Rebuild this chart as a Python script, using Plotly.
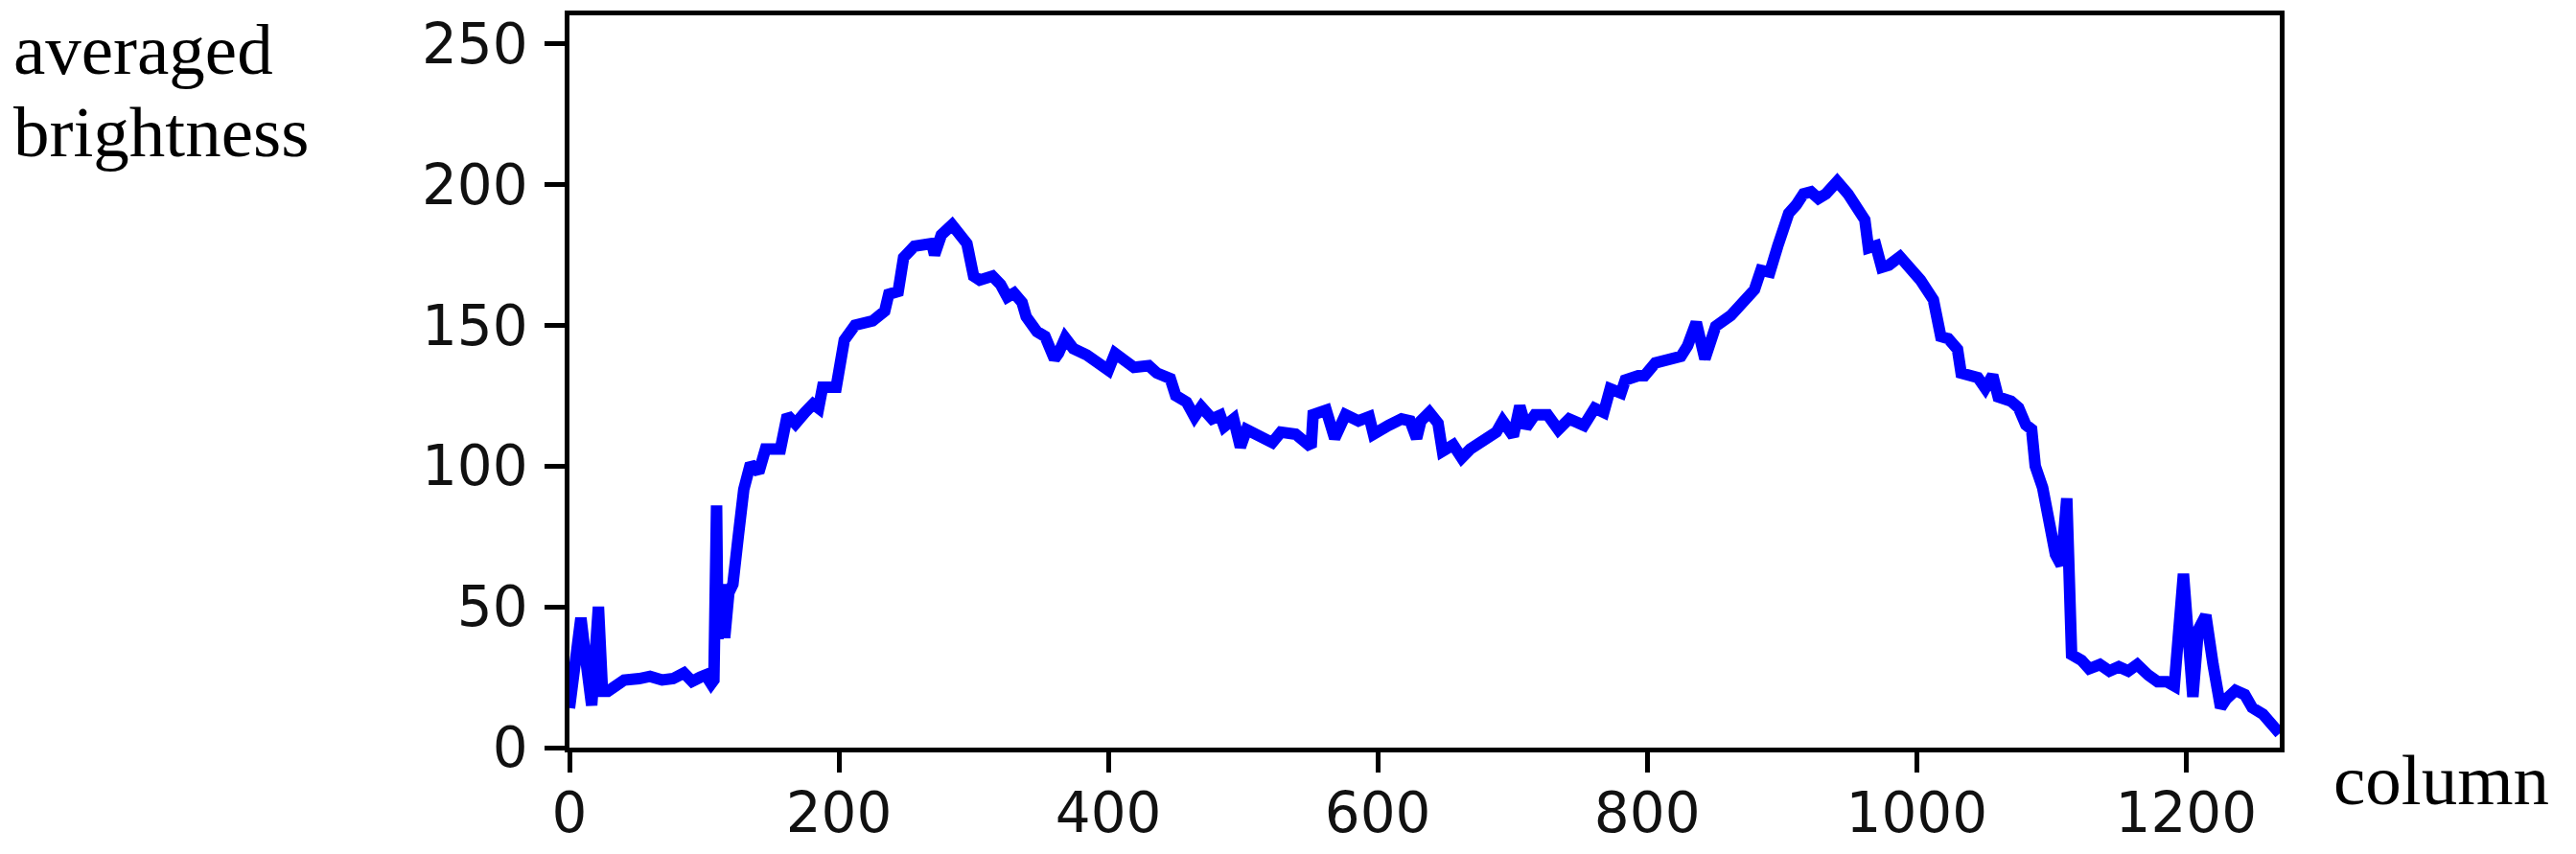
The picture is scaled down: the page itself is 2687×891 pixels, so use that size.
import plotly.graph_objects as go

# column index vs averaged brightness
column = [
    0, 8.5, 12.5, 16.5, 21.5, 24.5, 28.5, 36.5, 40.6, 51.7, 59.8, 68.8, 76.9, 85, 91, 97.1, 101.1, 105.2, 107.2,
    109.2, 110.2, 113.2, 115.2, 118.3, 121.3, 125.3, 129.4, 134.4, 140.5, 145.5, 156.6, 161.7, 167.7, 174.8, 180.8, 184.9, 187.9,
    198, 204, 212, 225, 234, 237, 244, 248, 256, 263, 269, 271, 276, 284, 290, 295, 300,
    304.5, 314, 320, 325, 330, 336, 339, 347, 353, 360, 363, 368, 374, 384, 394, 400, 405,
    409, 419, 430, 436, 446, 450, 458, 464, 469, 477, 483, 486,
    493, 498, 502.6, 512, 521.7, 528, 539, 550.5, 552, 561.7, 568, 576, 585.6, 593.6, 596.8,
    608, 617.6, 624, 628.8, 632, 638.3, 644.7, 648, 656, 662.3, 668.7, 678.3, 688, 692.7,
    700.6, 705.4, 710, 716.6, 726, 734, 742, 753, 761, 767.7, 772.5, 780.5, 783.7, 793.3,
    798, 806, 815.7, 825, 830, 836.4, 842.8, 850.8, 862, 870, 879.6, 884.4, 891,
    896.8, 905, 910.6, 916, 921.6, 927, 932.6, 941, 949, 956, 961.5, 964.2, 969.7, 974,
    979.4, 987.6, 994.5, 1002.8, 1012.4, 1017.9, 1023.4, 1030.3, 1033, 1039.9, 1045.4,
    1050.9, 1056.4, 1060.5, 1070, 1075.6, 1081, 1085.3, 1088, 1093.5, 1099, 1103, 1107.3,
    1111.4, 1115, 1122.4, 1128, 1136, 1143, 1150, 1157, 1163.7, 1172, 1178.8, 1185.7,
    1191.2, 1198, 1205, 1209, 1214.6, 1220, 1225.6, 1229.7, 1236.6, 1243.5, 1249, 1257,
    1264, 1269.5,
]
brightness = [
    14, 46, 30, 15, 50, 20, 20, 22, 24, 24.5, 25.3, 24, 24.5, 26.5, 23.5, 25, 25.8, 22.7, 24,
    86, 38.6, 58, 39, 55, 58, 75, 91.7, 100.8, 97.7, 106, 106, 118, 115, 119, 122, 120.5, 128,
    128, 144.7, 150, 151.5, 155, 161, 162, 174, 178, 178, 179, 175, 182, 185.6, 181, 179, 167.4,
    166, 167.4, 164.4, 160, 161.4, 158, 153, 147.7, 146, 138, 140, 145.5, 141.7, 139.4, 136.4, 134, 140,
    138.6, 135, 135.6, 133, 131, 125, 122.7, 117.5, 121, 116.7, 118, 114,
    116.7, 106.7, 112.9, 110.6, 108.3, 112, 111.3, 106.7, 118.2, 119.8, 109.8, 118.2, 116, 117.5, 111.3,
    114.4, 116.7, 116, 109.8, 116, 119, 115.2, 105.2, 107.5, 102.9, 106, 109, 112, 116,
    110.6, 121.3, 113.6, 118.2, 118.2, 112.9, 116.7, 114.4, 120.5, 119, 127.4, 125.9, 130.5, 132,
    132, 136.6, 137.4, 138.9, 142.7, 151, 138, 149.6, 153.4, 158, 162.6, 169.5, 168.8,
    178, 189.7, 192.7, 196.6, 197.3, 195, 196.6, 201, 196.6, 192, 187.4, 177.4, 178.2, 170.5,
    171.3, 174.3, 170.5, 166, 159, 146, 145.2, 141.4, 133, 132.2, 131.4,
    127.6, 132.2, 124.5, 123, 120.7, 114.6, 113, 100, 92.3, 75.5, 68.6, 64.8,
    88.5, 33, 31, 28, 29.5, 27.2, 28.7, 27.2, 29.5, 25.7, 23.4, 23.4,
    21.9, 61.7, 18, 41.8, 47, 29.5, 14.2, 17.2, 20.3, 18.8, 14.2, 11.9,
    8, 5,
]

x_ticks = [0, 200, 400, 600, 800, 1000, 1200]
y_ticks = [0, 50, 100, 150, 200, 250]

fig = go.Figure()
fig.add_trace(go.Scatter(
    x=column, y=brightness, mode="lines",
    line=dict(color="#0000ff", width=12),
    showlegend=False, hoverinfo="skip",
))

axis_style = dict(
    showline=True, mirror=True, linecolor="black", linewidth=4.5,
    ticks="outside", ticklen=21, tickwidth=4.5, tickcolor="black",
    showgrid=False, zeroline=False, automargin=False,
    tickfont=dict(family="DejaVu Sans", size=58, color="#111111"),
)
fig.update_xaxes(range=[0, 1269.5], tickvals=x_ticks, ticklabelstandoff=-7, **axis_style)
fig.update_yaxes(range=[0, 260], tickvals=y_ticks, ticklabelstandoff=6, **axis_style)

label_font = dict(family="Liberation Serif", size=75, color="black")
fig.add_annotation(text="averaged", xref="paper", yref="paper", x=-0.3261, y=0.9533,
                   xanchor="left", yanchor="middle", showarrow=False, font=label_font)
fig.add_annotation(text="brightness", xref="paper", yref="paper", x=-0.3261, y=0.8407,
                   xanchor="left", yanchor="middle", showarrow=False, font=label_font)
fig.add_annotation(text="column", xref="paper", yref="paper", x=1.0305, y=-0.0441,
                   xanchor="left", yanchor="middle", showarrow=False, font=label_font)

# the page body keeps its default 8px margin, so the figure is sized to fit inside the window
fig.update_layout(
    width=2671, height=875,
    margin=dict(l=586, r=301, t=8, b=103, autoexpand=False),
    paper_bgcolor="white", plot_bgcolor="white",
)

fig.write_html("out.html")
